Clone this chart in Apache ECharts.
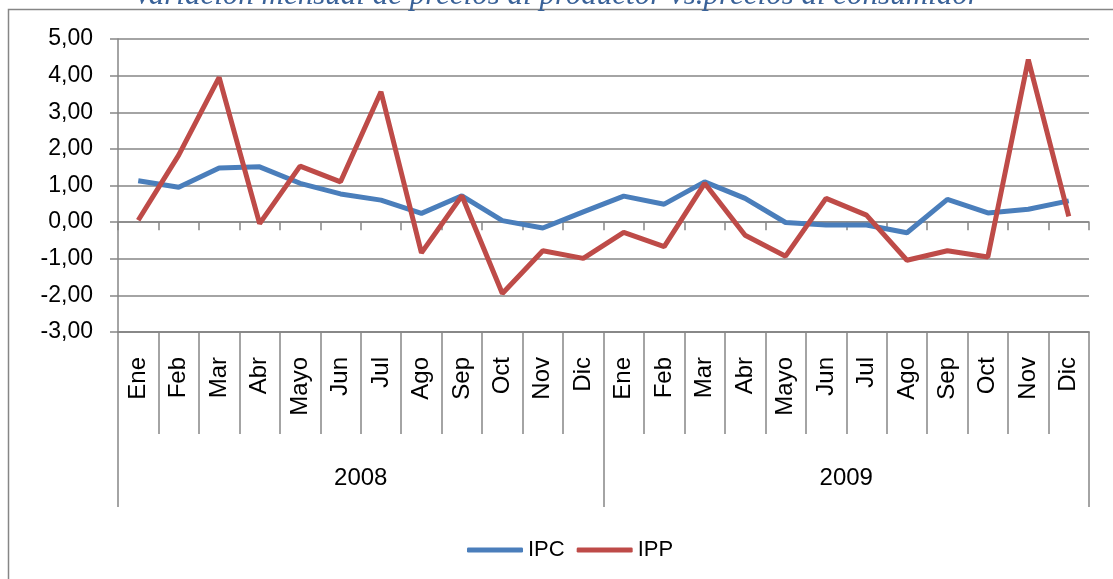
<!DOCTYPE html>
<html>
<head>
<meta charset="utf-8">
<script src="https://cdn.jsdelivr.net/npm/echarts@6/dist/echarts.min.js"></script>
<style>
  html, body { margin: 0; padding: 0; background: #fff; }
  #box { width: 1113px; height: 579px; }
</style>
</head>
<body>
<div id="box"></div>
<script>
// etiquetas del eje
let meses = ['Ene','Feb','Mar','Abr','Mayo','Jun','Jul','Ago','Sep','Oct','Nov','Dic',
             'Ene','Feb','Mar','Abr','Mayo','Jun','Jul','Ago','Sep','Oct','Nov','Dic'];
let anios = ['2008','2009'];

// variacion mensual (%)
let ipc = [1.13, 0.95, 1.48, 1.51, 1.06, 0.77, 0.60, 0.24, 0.72, 0.04, -0.16, 0.28,
           0.71, 0.49, 1.10, 0.65, -0.01, -0.08, -0.08, -0.29, 0.62, 0.25, 0.35, 0.58];
let ipp = [0.05, 1.83, 3.95, -0.04, 1.53, 1.10, 3.56, -0.84, 0.72, -1.95, -0.78, -0.99,
           -0.28, -0.67, 1.06, -0.36, -0.93, 0.65, 0.19, -1.04, -0.78, -0.95, 4.44, 0.16];

window.addEventListener('load', function () {
    let box = document.getElementById('box');
    let mychart = echarts.init(box);
    let gris = '#868686';
    let fuente = "'Liberation Sans', Arial, sans-serif";

    let options = {
        backgroundColor: '#ffffff',
        animation: false,
        title: {
            text: 'Variación mensual de precios al productor vs.precios al consumidor',
            left: 'center',
            top: -25,
            textStyle: {
                fontFamily: "'Liberation Serif', serif",
                fontStyle: 'italic',
                fontWeight: 'normal',
                fontSize: 31,
                color: '#3A6298'
            }
        },
        graphic: [{
            type: 'rect',
            shape: { x: 8.5, y: 9.5, width: 1130, height: 600 },
            style: { fill: 'none', stroke: gris, lineWidth: 1.5 },
            silent: true
        }],
        legend: {
            left: 462,
            top: 532,
            icon: 'roundRect',
            itemWidth: 56,
            itemHeight: 5,
            itemGap: 12,
            textStyle: { fontFamily: fuente, fontSize: 22, color: '#000', lineHeight: 26 },
            data: ['IPC', 'IPP']
        },
        grid: { left: 118, right: 24, top: 39, bottom: 247 },
        xAxis: [
            {
                type: 'category',
                data: meses,
                axisLine: { show: true, onZero: true, lineStyle: { color: gris, width: 1.5 } },
                axisTick: { show: true, length: 8, lineStyle: { color: gris, width: 1.5 } },
                axisLabel: { show: false }
            },
            {
                type: 'category',
                data: meses,
                position: 'bottom',
                axisLine: { show: true, onZero: false, lineStyle: { color: gris, width: 1.5 } },
                axisTick: { show: true, length: 102, lineStyle: { color: gris, width: 1.5 } },
                axisLabel: {
                    show: true,
                    rotate: 90,
                    interval: 0,
                    margin: 25,
                    fontFamily: fuente,
                    fontSize: 24,
                    color: '#000'
                }
            },
            {
                type: 'category',
                data: anios,
                position: 'bottom',
                axisLine: { show: true, onZero: false, lineStyle: { color: gris, width: 1.5 } },
                axisTick: { show: true, length: 175, lineStyle: { color: gris, width: 1.5 } },
                axisLabel: {
                    show: true,
                    margin: 134,
                    fontFamily: fuente,
                    fontSize: 24,
                    color: '#000'
                }
            }
        ],
        yAxis: {
            type: 'value',
            min: -3,
            max: 5,
            interval: 1,
            axisLine: { show: true, lineStyle: { color: gris, width: 1.5 } },
            axisTick: { show: true, length: 8, lineStyle: { color: gris, width: 1.5 } },
            splitLine: { show: true, lineStyle: { color: gris, width: 1.5 } },
            axisLabel: {
                margin: 25,
                fontFamily: fuente,
                fontSize: 23,
                color: '#000',
                formatter: function (v) { return v.toFixed(2).replace('.', ','); }
            }
        },
        series: [
            {
                name: 'IPC',
                type: 'line',
                data: ipc,
                symbol: 'none',
                lineStyle: { color: '#4A7EBB', width: 5 },
                itemStyle: { color: '#4A7EBB' }
            },
            {
                name: 'IPP',
                type: 'line',
                data: ipp,
                symbol: 'none',
                lineStyle: { color: '#BE4B48', width: 5 },
                itemStyle: { color: '#BE4B48' }
            }
        ]
    };

    mychart.setOption(options);
});
</script>
</body>
</html>
